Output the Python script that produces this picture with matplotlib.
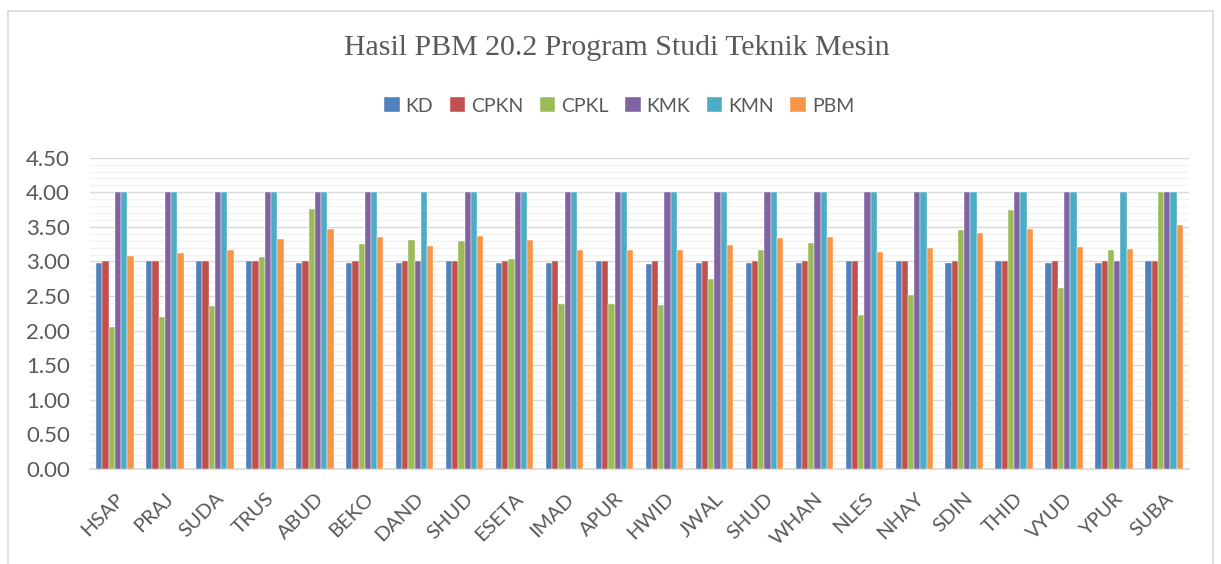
import matplotlib
matplotlib.use("Agg")
import matplotlib.pyplot as plt
from matplotlib.patches import Rectangle
from matplotlib.ticker import MultipleLocator, FormatStrFormatter
import numpy as np

categories = ["HSAP", "PRAJ", "SUDA", "TRUS", "ABUD", "BEKO", "DAND", "SHUD", "ESETA", "IMAD", "APUR",
              "HWID", "JWAL", "SHUD", "WHAN", "NLES", "NHAY", "SDIN", "THID", "VYUD", "YPUR", "SUBA"]

KD = [2.98, 3.00, 3.00, 3.00, 2.98, 2.98, 2.98, 3.00, 2.98, 2.98, 3.00,
      2.97, 2.98, 2.98, 2.98, 3.00, 3.00, 2.98, 3.00, 2.98, 2.98, 3.00]
CPKN = [3.00] * 22
CPKL = [2.05, 2.20, 2.35, 3.07, 3.76, 3.25, 3.31, 3.29, 3.04, 2.39, 2.39,
        2.37, 2.75, 3.17, 3.26, 2.22, 2.52, 3.46, 3.74, 2.62, 3.16, 4.00]
KMK = [4.00, 4.00, 4.00, 4.00, 4.00, 4.00, 3.00, 4.00, 4.00, 4.00, 4.00,
       4.00, 4.00, 4.00, 4.00, 4.00, 4.00, 4.00, 4.00, 4.00, 3.00, 4.00]
KMN = [4.00] * 22
PBM = [3.08, 3.12, 3.16, 3.32, 3.47, 3.36, 3.22, 3.37, 3.31, 3.16, 3.17,
       3.16, 3.24, 3.34, 3.36, 3.13, 3.19, 3.41, 3.47, 3.21, 3.18, 3.53]

series_names = ["KD", "CPKN", "CPKL", "KMK", "KMN", "PBM"]
series_values = [KD, CPKN, CPKL, KMK, KMN, PBM]
colors = ["#4F81BD", "#C0504D", "#9BBB59", "#8064A2", "#4BACC6", "#F79646"]

W, H = 1221, 564
fig = plt.figure(figsize=(W / 100, H / 100), dpi=100)
fig.patch.set_facecolor("white")

# chart frame
fig.patches.append(Rectangle((8 / W, -0.05), (1213 - 8) / W, 1.05 - 11 / H,
                             transform=fig.transFigure, fill=False,
                             edgecolor="#d9d9d9", linewidth=1.2))

ax = fig.add_axes([90 / W, (H - 469) / H, (1189 - 90) / W, (469 - 157.7) / H])

x = np.arange(len(categories))
bw = 0.125
for i, (name, vals, c) in enumerate(zip(series_names, series_values, colors)):
    ax.bar(x + (i - 2.5) * bw, vals, width=bw, color=c, label=name,
           edgecolor="white", linewidth=0.3, zorder=3)

ax.set_xlim(-0.5, len(categories) - 0.5)
ax.set_ylim(0, 4.5)
ax.yaxis.set_major_locator(MultipleLocator(0.5))
ax.yaxis.set_minor_locator(MultipleLocator(0.1))
ax.grid(axis="y", which="major", color="#d9d9d9", linewidth=1.0, zorder=0)
ax.grid(axis="y", which="minor", color="#f2f2f2", linewidth=1.0, zorder=0)
ax.set_axisbelow(True)

for s in ["top", "right", "left"]:
    ax.spines[s].set_visible(False)
ax.spines["bottom"].set_color("#d9d9d9")
ax.spines["bottom"].set_linewidth(1.2)

ax.set_xticks(x)
ax.set_xticklabels(categories, rotation=45, ha="right", rotation_mode="anchor",
                   fontsize=14.5, color="#595959", family="Lato")
ax.yaxis.set_major_formatter(FormatStrFormatter("%.2f"))
ax.tick_params(axis="y", which="both", length=0, labelsize=16, labelcolor="#595959", pad=14.5)
ax.tick_params(axis="x", length=0, pad=15)
for lab in ax.get_yticklabels():
    lab.set_family("Lato")

fig.text(0.505, 1 - 48 / H, "Hasil PBM 20.2 Program Studi Teknik Mesin",
         ha="center", va="center", fontsize=21.5, color="#595959",
         family="Liberation Serif")

fig.legend(loc="center", bbox_to_anchor=(0.507, 1 - 106 / H), ncol=6,
           frameon=False, handlelength=0.8, handleheight=0.8,
           handletextpad=0.3, columnspacing=0.85,
           prop={"family": "Lato", "size": 14}, labelcolor="#595959")

fig.savefig("out.png", dpi=100, facecolor="white")
